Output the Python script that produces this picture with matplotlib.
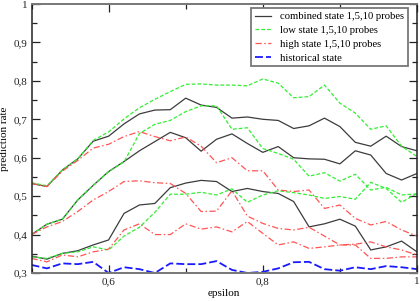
import numpy as np
import matplotlib
matplotlib.use("Agg")
import matplotlib.pyplot as plt
from matplotlib.ticker import MultipleLocator, FuncFormatter

# epsilon grid, 0.5 .. 1.0 in steps of 0.02
epsilon = np.round(np.arange(0.5, 1.0001, 0.02), 2)

# combined state (1, 5, 10 probes)
combined_a = [0.533, 0.525, 0.568, 0.597, 0.643, 0.656, 0.688, 0.714, 0.724, 0.725, 0.755, 0.737, 0.731,
              0.703, 0.706, 0.700, 0.697, 0.676, 0.683, 0.703, 0.681, 0.640, 0.630, 0.656, 0.629, 0.618]
combined_b = [0.400, 0.427, 0.440, 0.490, 0.528, 0.564, 0.590, 0.618, 0.642, 0.666, 0.652, 0.617, 0.648,
              0.662, 0.637, 0.614, 0.629, 0.600, 0.597, 0.596, 0.584, 0.618, 0.607, 0.559, 0.542, 0.559]
combined_c = [0.344, 0.336, 0.351, 0.358, 0.373, 0.386, 0.455, 0.477, 0.481, 0.522, 0.534, 0.541, 0.538,
              0.512, 0.520, 0.512, 0.507, 0.486, 0.420, 0.428, 0.440, 0.422, 0.360, 0.368, 0.383, 0.355]

# low state (1, 5, 10 probes)
low_a = [0.535, 0.527, 0.568, 0.597, 0.645, 0.667, 0.701, 0.730, 0.752, 0.772, 0.791, 0.792, 0.789,
         0.789, 0.787, 0.805, 0.794, 0.756, 0.759, 0.789, 0.742, 0.716, 0.674, 0.683, 0.630, 0.603]
low_b = [0.400, 0.427, 0.440, 0.490, 0.528, 0.564, 0.589, 0.663, 0.687, 0.697, 0.720, 0.735, 0.735,
         0.674, 0.678, 0.624, 0.611, 0.596, 0.552, 0.561, 0.539, 0.557, 0.516, 0.523, 0.503, 0.506]
low_c = [0.342, 0.338, 0.351, 0.355, 0.368, 0.360, 0.396, 0.419, 0.458, 0.505, 0.505, 0.510, 0.503,
         0.519, 0.484, 0.503, 0.514, 0.509, 0.503, 0.494, 0.499, 0.492, 0.536, 0.520, 0.484, 0.507]

# high state (1, 5, 10 probes)
high_a = [0.533, 0.525, 0.565, 0.593, 0.625, 0.635, 0.655, 0.668, 0.655, 0.644, 0.654, 0.630, 0.587,
          0.600, 0.566, 0.566, 0.516, 0.512, 0.516, 0.468, 0.477, 0.442, 0.425, 0.434, 0.412, 0.396]
high_b = [0.400, 0.420, 0.434, 0.460, 0.490, 0.512, 0.538, 0.540, 0.535, 0.533, 0.507, 0.460, 0.461,
          0.514, 0.448, 0.429, 0.416, 0.412, 0.419, 0.396, 0.373, 0.375, 0.381, 0.368, 0.360, 0.347]
high_c = [0.338, 0.329, 0.347, 0.342, 0.355, 0.362, 0.412, 0.428, 0.400, 0.400, 0.428, 0.414, 0.420,
          0.407, 0.434, 0.403, 0.373, 0.381, 0.364, 0.368, 0.373, 0.373, 0.338, 0.338, 0.342, 0.342]

# historical state
historical = [0.321, 0.312, 0.325, 0.323, 0.329, 0.300, 0.315, 0.310, 0.300, 0.325, 0.323, 0.323, 0.331,
              0.308, 0.300, 0.303, 0.312, 0.328, 0.329, 0.310, 0.306, 0.315, 0.310, 0.318, 0.315, 0.310]

labels = ["combined state 1,5,10 probes", "low state 1,5,10 probes",
          "high state 1,5,10 probes", "historical state"]

plt.rcParams['font.family'] = ['Liberation Serif', 'DejaVu Serif']

fig = plt.figure(figsize=(4.2, 3.01), dpi=100)
ax = fig.add_axes([31.5 / 420, 1 - 273 / 301, (417 - 31.5) / 420, 269 / 301])

black = '#3c3c3c'
green = '#33ee33'
red = '#ff5555'
blue = '#1a1aff'

for i, s in enumerate([combined_a, combined_b, combined_c]):
    ax.plot(epsilon, s, color=black, lw=0.9, label=labels[0] if i == 0 else None)
for i, s in enumerate([low_a, low_b, low_c]):
    ax.plot(epsilon, s, color=green, lw=0.9, dashes=(3, 1.6), label=labels[1] if i == 0 else None)
for i, s in enumerate([high_a, high_b, high_c]):
    ax.plot(epsilon, s, color=red, lw=0.9, dashes=(5, 2, 1.2, 2), label=labels[2] if i == 0 else None)
ax.plot(epsilon, historical, color=blue, lw=1.3, dashes=(4.4, 1.7), label=labels[3])

ax.set_xlim(0.5, 1.0)
ax.set_ylim(0.3, 1.0)


def comma(v, pos):
    if abs(v - round(v)) < 1e-9:
        return "%d" % round(v)
    return ("%.1f" % v).replace(".", ",")


ax.xaxis.set_major_locator(MultipleLocator(0.2))
ax.xaxis.set_minor_locator(MultipleLocator(0.1))
ax.yaxis.set_major_locator(MultipleLocator(0.1))
ax.yaxis.set_minor_locator(MultipleLocator(0.05))
ax.xaxis.set_major_formatter(FuncFormatter(comma))
ax.yaxis.set_major_formatter(FuncFormatter(comma))

ax.tick_params(which='both', direction='in', top=True, right=True, labelsize=8, colors='#222222')
ax.tick_params(which='major', length=6, width=0.9, pad=3)
ax.tick_params(which='minor', length=3.5, width=0.9)

for side in ['top', 'bottom']:
    ax.spines[side].set_color('#777777')
    ax.spines[side].set_linewidth(1.4)
for side in ['left', 'right']:
    ax.spines[side].set_color('#222222')
    ax.spines[side].set_linewidth(1.1)

ax.set_xlabel("epsilon", fontsize=8, labelpad=2)
ax.set_ylabel("prediction rate", fontsize=8, labelpad=3)

leg = ax.legend(loc='upper right', bbox_to_anchor=(0.977, 0.985), fontsize=7.7, frameon=True,
                fancybox=False, framealpha=1, edgecolor='#777777', handlelength=1.5,
                handletextpad=0.9, labelspacing=0.4, borderpad=0.35, borderaxespad=0)
leg.get_frame().set_linewidth(1.3)

fig.savefig("out.png", dpi=100)
